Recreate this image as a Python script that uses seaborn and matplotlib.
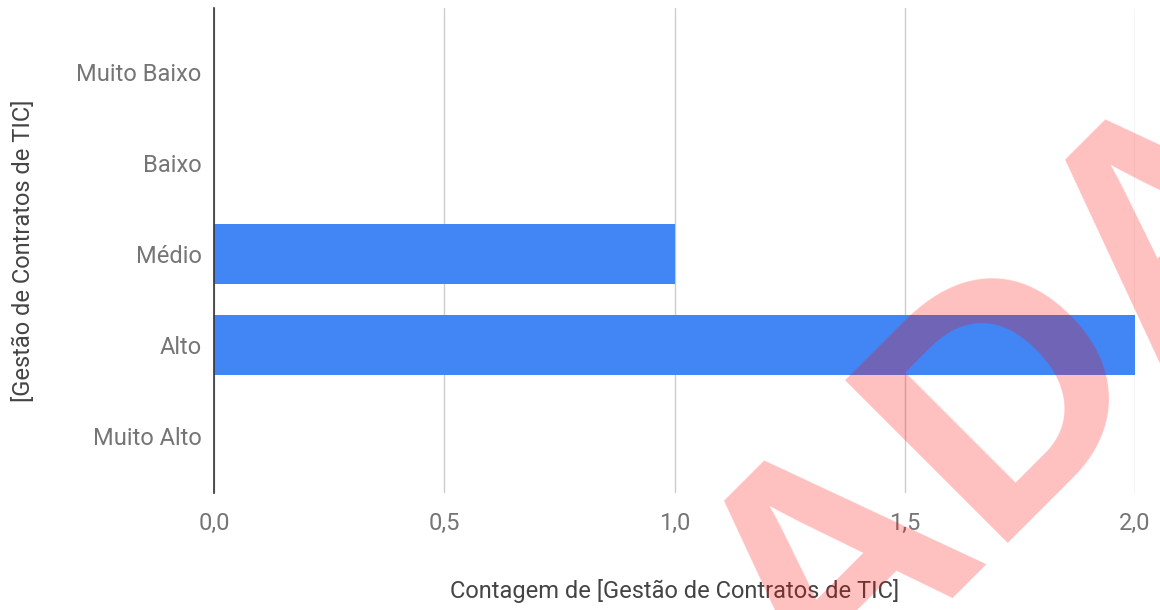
import matplotlib
matplotlib.use("Agg")
import matplotlib.pyplot as plt
import seaborn as sns
import pandas as pd

# Response categories and their counts
categorias = ["Muito Baixo", "Baixo", "Médio", "Alto", "Muito Alto"]
contagens = [0, 0, 1, 2, 0]
ticks_x = [0.0, 0.5, 1.0, 1.5, 2.0]
rotulos_x = ["0,0", "0,5", "1,0", "1,5", "2,0"]

sns.set_theme(style="white")
plt.rcParams["font.family"] = ["Roboto", "DejaVu Sans"]

df = pd.DataFrame({"categoria": categorias, "contagem": contagens})

fig = plt.figure(figsize=(11.6, 6.1), dpi=100)
ax = fig.add_axes([0.1845, 0.1918, 0.794, 0.795])

sns.barplot(data=df, y="categoria", x="contagem", order=categorias,
            orient="h", color="#4285F4", saturation=1, width=0.66,
            edgecolor="none", ax=ax)

ax.set_xlim(0, 2.0)
ax.set_ylim(4.63, -0.7)
ax.set_xticks(ticks_x)
ax.set_xticklabels(rotulos_x)
ax.xaxis.grid(True, color="#cccccc", linewidth=1)
ax.set_axisbelow(True)
for s in ["top", "right", "bottom"]:
    ax.spines[s].set_visible(False)
ax.spines["left"].set_color("#333333")
ax.spines["left"].set_linewidth(1.2)
ax.spines["left"].set_zorder(5)
ax.tick_params(axis="both", length=0, labelsize=17, colors="#757575")
ax.tick_params(axis="x", pad=14)
ax.tick_params(axis="y", pad=9)

ax.set_xlabel("Contagem de [Gestão de Contratos de TIC]", fontsize=17,
              color="#444444", labelpad=31)
ax.set_ylabel("[Gestão de Contratos de TIC]", fontsize=17,
              color="#444444", labelpad=30)

# Red stamp across the lower right
fig.text(1015 / 1160, 1 - 405 / 610, "ADA", fontsize=241, color="red",
         alpha=0.25, rotation=45, rotation_mode="anchor", fontweight="bold",
         ha="center", va="center", family="Liberation Sans", zorder=10)

fig.savefig("out.png", dpi=100)
